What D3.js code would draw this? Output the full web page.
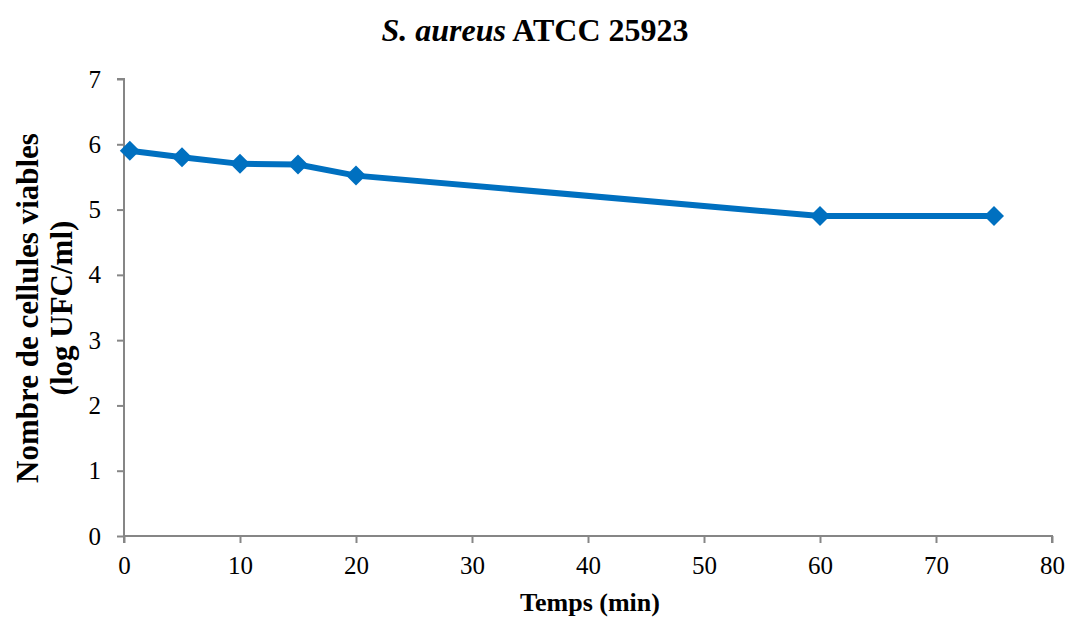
<!DOCTYPE html>
<html>
<head>
<meta charset="utf-8">
<script src="https://cdn.jsdelivr.net/npm/d3@7"></script>
<style>
  html, body { margin: 0; padding: 0; background: #fff; }
  svg { display: block; }
</style>
</head>
<body>
<svg id="chart" width="1069" height="619"></svg>
<script>
// Survival kinetics of S. aureus ATCC 25923
const times = [0.5, 5, 10, 15, 20, 60, 75];                 // min
const viableCounts = [5.9, 5.8, 5.7, 5.69, 5.52, 4.9, 4.9]; // log UFC/ml
const xTicks = [0, 10, 20, 30, 40, 50, 60, 70, 80];
const yTicks = [0, 1, 2, 3, 4, 5, 6, 7];

const FONT = "Liberation Serif, Times New Roman, Times, serif";
const svg = d3.select("#chart").attr("font-family", FONT);
const plotLeft = 124, plotRight = 1052, plotTop = 79, plotBottom = 536;

const x = d3.scaleLinear().domain([0, 80]).range([plotLeft, plotRight]);
const y = d3.scaleLinear().domain([0, 7]).range([plotBottom, plotTop]);

const axisColor = "#868686";

// Y axis
const yAxis = svg.append("g").attr("transform", `translate(${plotLeft},0)`)
  .call(d3.axisLeft(y).tickValues(yTicks).tickSize(7).tickPadding(16).tickFormat(d3.format("d")));
// X axis
const xAxis = svg.append("g").attr("transform", `translate(0,${plotBottom})`)
  .call(d3.axisBottom(x).tickValues(xTicks).tickSize(7).tickPadding(13).tickFormat(d3.format("d")));

[yAxis, xAxis].forEach(g => {
  g.attr("font-family", FONT).attr("font-size", 25);
  g.select(".domain").attr("stroke", axisColor).attr("stroke-width", 2);
  g.selectAll(".tick line").attr("stroke", axisColor).attr("stroke-width", 2);
  g.selectAll(".tick text").attr("fill", "#000");
});
yAxis.select(".domain").attr("d", `M-7,${plotTop}H0V${plotBottom}`);
xAxis.select(".domain").attr("d", `M${plotLeft},7V0H${plotRight}V7`);

// Series line
const line = d3.line().x((d, i) => x(times[i])).y(d => y(d));
svg.append("path")
  .datum(viableCounts)
  .attr("d", line)
  .attr("fill", "none")
  .attr("stroke", "#0070C0")
  .attr("stroke-width", 6)
  .attr("stroke-linejoin", "round");

// Diamond markers
svg.append("g").selectAll("path")
  .data(viableCounts)
  .join("path")
  .attr("transform", (d, i) => `translate(${x(times[i])},${y(d)})`)
  .attr("d", "M0,-10L10,0L0,10L-10,0Z")
  .attr("fill", "#0070C0");

// Title
const title = svg.append("text")
  .attr("x", 535).attr("y", 41)
  .attr("text-anchor", "middle")
  .attr("font-size", 32).attr("font-weight", "bold");
title.append("tspan").attr("font-style", "italic").text("S. aureus");
title.append("tspan").text(" ATCC 25923");

// X axis title
svg.append("text")
  .attr("x", 590).attr("y", 611)
  .attr("text-anchor", "middle")
  .attr("font-size", 26).attr("font-weight", "bold")
  .text("Temps (min)");

// Y axis title (two lines)
const yTitle = svg.append("text")
  .attr("transform", "translate(0,308) rotate(-90)")
  .attr("text-anchor", "middle")
  .attr("font-size", 31).attr("font-weight", "bold");
yTitle.append("tspan").attr("x", 0).attr("y", 38).text("Nombre de cellules viables");
yTitle.append("tspan").attr("x", 0).attr("y", 72).text("(log UFC/ml)");
</script>
</body>
</html>
